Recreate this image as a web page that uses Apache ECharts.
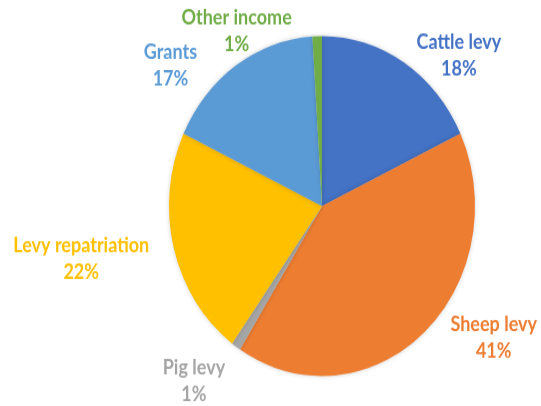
<!DOCTYPE html>
<html><head><meta charset="utf-8">
<script src="https://cdn.jsdelivr.net/npm/echarts@6/dist/echarts.min.js"></script>
<style>
html,body{margin:0;padding:0;background:#fff;overflow:hidden}
#wrap{width:541px;height:406px;overflow:hidden}
#chart{width:541px;height:365px;transform:scaleY(1.111);transform-origin:0 0}
</style></head><body><div id="wrap"><div id="chart"></div></div>
<script>
const categories = ['Cattle levy', 'Sheep levy', 'Pig levy', 'Levy repatriation', 'Grants', 'Other income'];
const values = [18, 41, 1, 22, 17, 1];
const colors = ['#4472C4', '#ED7D31', '#A5A5A5', '#FFC000', '#5B9BD5', '#70AD47'];
const labelShift = [[0, 5.4], [13, -6.3], [2, 20], [-6, 6.3], [-26, 11.7], [-20, 10]];

const chart = echarts.init(document.getElementById('chart'), null, {renderer: 'canvas'});
chart.setOption({
  animation: false,
  backgroundColor: '#ffffff',
  series: [{
    type: 'pie',
    center: [322, 185.4],
    radius: 153,
    startAngle: 90,
    clockwise: true,
    avoidLabelOverlap: false,
    data: categories.map((c, i) => ({
      name: c, value: values[i],
      itemStyle: {color: colors[i]},
      label: {color: colors[i]}
    })),
    itemStyle: {borderWidth: 0, shadowBlur: 4, shadowColor: 'rgba(0,0,0,0.18)'},
    label: {
      show: true, position: 'outside',
      formatter: p => p.name + '\n' + p.value + '%',
      fontFamily: 'Lato', fontWeight: 'bold', fontSize: 18, lineHeight: 24
    },
    labelLine: {show: false, length: 14, length2: 0},
    labelLayout: p => ({
      x: p.labelRect.x + p.labelRect.width / 2 + labelShift[p.dataIndex][0],
      y: p.labelRect.y + p.labelRect.height / 2 + labelShift[p.dataIndex][1],
      align: 'center', verticalAlign: 'middle'
    }),
    emphasis: {disabled: true}
  }]
});
</script></body></html>
